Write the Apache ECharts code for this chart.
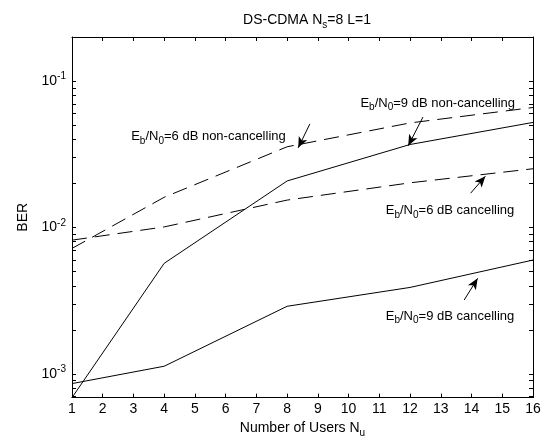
<!DOCTYPE html>
<html>
<head>
<meta charset="utf-8">
<script src="https://cdn.jsdelivr.net/npm/echarts@6/dist/echarts.min.js"></script>
<style>
  html, body { margin: 0; padding: 0; background: #fff; }
  #chart { width: 549px; height: 443px; }
</style>
</head>
<body>
<div id="chart"></div>
<script>
const users = [1, 4, 8, 12, 16];
const ber6Non = [0.0072, 0.0161, 0.0356, 0.0518, 0.066];
const ber9Non = [0.00069, 0.0057, 0.0208, 0.0369, 0.0522];
const ber6Can = [0.0082, 0.0101, 0.0154, 0.0202, 0.0252];
const ber9Can = [0.00086, 0.00113, 0.0029, 0.0039, 0.0060];
const yLabels = [0.001, 0.01, 0.1];
const yTicks = [0.0007, 0.0008, 0.0009, 0.001, 0.002, 0.003, 0.004, 0.005, 0.006, 0.007, 0.008, 0.009,
  0.01, 0.02, 0.03, 0.04, 0.05, 0.06, 0.07, 0.08, 0.09, 0.1, 0.2];

const font = 'Liberation Sans, Arial, sans-serif';
const sub = { fontSize: 10, fontFamily: font, color: '#000', padding: [9, 0, 0, 0] };
const sup = { fontSize: 10, fontFamily: font, color: '#000', padding: [0, 0, 9, 0] };

function pairs(ys) {
  return users.map((u, i) => [u, ys[i]]);
}

function arrow(from, to) {
  return [{ coord: from }, { coord: to }];
}

function note(coord, text) {
  return {
    coord: coord,
    symbol: 'circle',
    symbolSize: 1,
    itemStyle: { color: 'rgba(0,0,0,0)' },
    label: {
      show: true,
      position: 'inside',
      formatter: text,
      color: '#000',
      fontSize: 13,
      fontFamily: font,
      rich: { sub: sub }
    }
  };
}

const markLineBase = {
  silent: true,
  symbol: ['none', 'arrow'],
  symbolSize: [7, 11],
  label: { show: false },
  lineStyle: { color: '#000', width: 1, type: 'solid' },
  animation: false
};

function makeSeries(name, ys, dashed, arrows, notes) {
  return {
    name: name,
    type: 'line',
    data: pairs(ys),
    showSymbol: false,
    symbol: 'none',
    lineStyle: { color: '#000', width: 1, type: dashed ? [15, 8] : 'solid' },
    itemStyle: { color: '#000' },
    markLine: Object.assign({}, markLineBase, { data: arrows }),
    markPoint: { silent: true, animation: false, data: notes }
  };
}

const chart = echarts.init(document.getElementById('chart'));

const yBase = {
  type: 'log',
  logBase: 10,
  min: 0.00069,
  max: 0.2,
  axisLine: { show: true, lineStyle: { color: '#000', width: 1 } },
  splitLine: { show: false },
  axisTick: { show: true, inside: true, length: 4, customValues: yTicks, lineStyle: { color: '#000' } }
};

chart.setOption({
  animation: false,
  backgroundColor: '#fff',
  title: {
    text: 'DS-CDMA N{sub|s}=8 L=1',
    left: 302,
    textAlign: 'center',
    top: 6,
    textStyle: {
      fontSize: 14, fontWeight: 'normal', color: '#000', fontFamily: font,
      rich: { sub: sub }
    }
  },
  grid: { left: 72, right: 16, top: 37, bottom: 42 },
  xAxis: [{
    type: 'value',
    min: 1,
    max: 16,
    interval: 1,
    position: 'bottom',
    name: 'Number of Users N{sub|u}',
    nameLocation: 'middle',
    nameGap: 20,
    nameTextStyle: { fontSize: 14, color: '#000', fontFamily: font, rich: { sub: sub } },
    axisLine: { lineStyle: { color: '#000', width: 1 } },
    axisTick: { inside: true, length: 4, lineStyle: { color: '#000' } },
    axisLabel: { fontSize: 14, color: '#000', fontFamily: font, margin: 5 },
    splitLine: { show: false }
  }, {
    type: 'value',
    min: 1,
    max: 16,
    interval: 1,
    position: 'top',
    axisLine: { lineStyle: { color: '#000', width: 1 } },
    axisTick: { inside: true, length: 4, lineStyle: { color: '#000' } },
    axisLabel: { show: false },
    splitLine: { show: false }
  }],
  yAxis: [Object.assign({}, yBase, {
    position: 'left',
    name: 'BER',
    nameLocation: 'middle',
    nameGap: 34,
    nameTextStyle: { fontSize: 14, color: '#000', fontFamily: font },
    axisLabel: {
      customValues: yLabels,
      fontSize: 14,
      color: '#000',
      fontFamily: font,
      margin: 6,
      formatter: function (v) {
        return '10{sup|' + Math.round(Math.log10(v)) + '}';
      },
      rich: { sup: sup }
    }
  }), Object.assign({}, yBase, {
    position: 'right',
    axisLabel: { show: false }
  })],
  series: [
    makeSeries('6 dB non-cancelling', ber6Non, true,
      [arrow([8.74, 0.051], [8.36, 0.035])],
      [note([5.44, 0.0417], 'E{sub|b}/N{sub|0}=6 dB non-cancelling')]),
    makeSeries('9 dB non-cancelling', ber9Non, false,
      [arrow([12.42, 0.0568], [11.94, 0.0362])],
      [note([12.9, 0.0707], 'E{sub|b}/N{sub|0}=9 dB non-cancelling')]),
    makeSeries('6 dB cancelling', ber6Can, true,
      [arrow([13.97, 0.01716], [14.45, 0.0224])],
      [note([13.3, 0.0131], 'E{sub|b}/N{sub|0}=6 dB cancelling')]),
    makeSeries('9 dB cancelling', ber9Can, false,
      [arrow([13.76, 0.0032], [14.2, 0.0045])],
      [note([13.3, 0.00249], 'E{sub|b}/N{sub|0}=9 dB cancelling')])
  ]
});
</script>
</body>
</html>
